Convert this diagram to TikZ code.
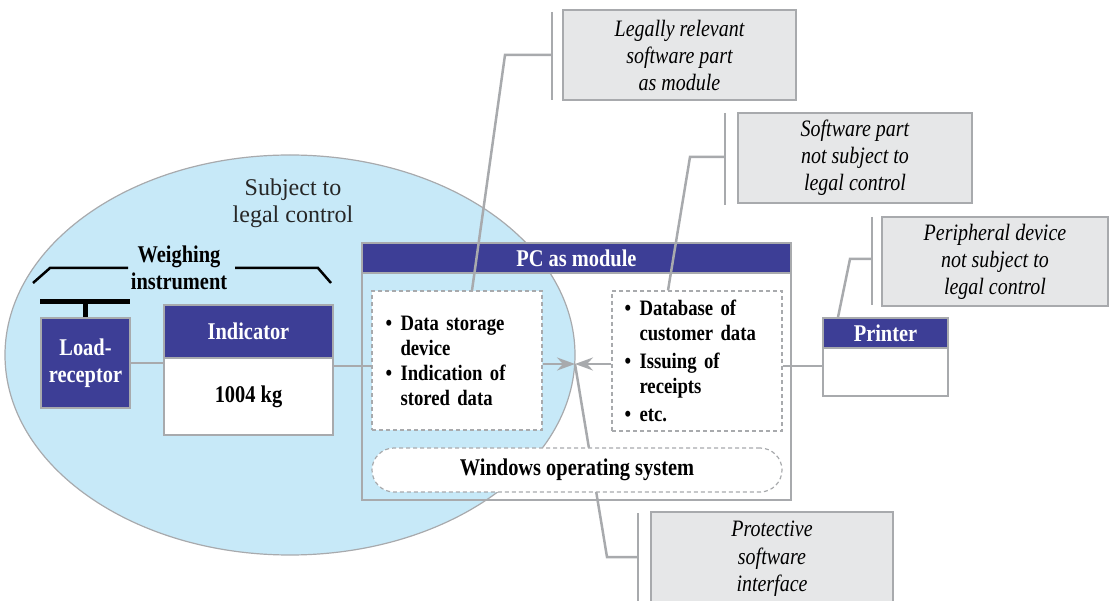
\documentclass[tikz,border=0pt]{standalone}
\usepackage{fontspec}
\setmainfont{Liberation Serif}[FakeStretch=0.85]
\newfontfamily\subjfont{Liberation Serif}
\usetikzlibrary{arrows.meta,shapes.geometric}

\definecolor{modblue}{RGB}{61,62,150}
\definecolor{legalblue}{RGB}{199,233,248}
\definecolor{linegray}{RGB}{168,170,173}
\definecolor{notegray}{RGB}{230,231,232}

\newcommand{\bitem}[1]{\makebox[15pt][l]{\textbullet}#1}
\newcommand{\bcont}[1]{\makebox[15pt]{}#1}

\begin{document}
\begin{tikzpicture}[x=1pt,y=-1pt,
    conn/.style={draw=linegray,line width=2.5pt},
    hdr/.style={draw=linegray,line width=1.5pt,fill=modblue,text=white,
      font=\bfseries\fontsize{24}{27}\selectfont,align=center,inner sep=0pt},
    body/.style={draw=linegray,line width=1.5pt,fill=white,
      font=\bfseries\fontsize{24}{27}\selectfont,align=center,inner sep=0pt},
    dbox/.style={draw=linegray,line width=1.2pt,dash pattern=on 4pt off 3pt,
      fill=white,inner sep=0pt},
    list/.style={font=\bfseries\fontsize{22}{25}\selectfont,align=left,
      text width=143pt,inner sep=0pt},
    note/.style={draw=linegray,line width=1.5pt,fill=notegray,align=center,
      font=\itshape\fontsize{23.5}{27}\selectfont,inner sep=0pt},
    notetext/.style={align=center,font=\itshape\fontsize{23.5}{27.5}\selectfont,inner sep=0pt},
    tip/.style={conn,-{Stealth[length=18pt,width=13pt,inset=6pt]}}]
  \path[use as bounding box,clip] (0,0) rectangle (1109,601);

  % area subject to legal control
  \node[ellipse,draw=linegray,line width=1.2pt,fill=legalblue,
    minimum width=570pt,minimum height=400pt,inner sep=0pt] (legal) at (290,355) {};
  \node[font=\subjfont\fontsize{24}{27}\selectfont,text=black!85,align=center]
    (subj) at (293,203) {Subject to\\legal control};

  % weighing instrument
  \node[font=\bfseries\fontsize{24}{27}\selectfont,align=center,inner sep=0pt]
    (wi) at (179,268) {Weighing\\instrument};
  \draw[line width=2.5pt] (33,283) -- (50,268) -- (128,268);
  \draw[line width=2.5pt] (235,268) -- (318,268) -- (331,283);

  \node[hdr,minimum width=89pt,minimum height=90pt] (load) at (85.5,363) {Load-\\receptor};
  \coordinate (barL) at (40,302);
  \coordinate (barR) at (130,302);
  \draw[line width=5pt] (barL) -- (barR);
  \draw[line width=5pt] (load.north) -- (load.north |- barL);

  \node[hdr,minimum width=169pt,minimum height=53pt] (ind) at (248.5,331.5) {Indicator};
  \node[body,minimum width=169pt,minimum height=77pt] (indval) at (248.5,396.5) {1004 kg};
  \draw[conn] (load.east) -- (load.east -| indval.west);

  % PC as module
  \node[draw=linegray,line width=1.5pt,minimum width=429pt,minimum height=257pt,
    inner sep=0pt] (pc) at (576.5,371.5) {};
  \node[hdr,minimum width=429pt,minimum height=30pt] (pchdr) at (576.5,258) {PC as module};

  \node[dbox,minimum width=170pt,minimum height=139pt] (store) at (457,360.5) {};
  \node[list] (storetxt) at (store) {\bitem{Data storage}\\\bcont{device}\\
    \bitem{Indication of}\\\bcont{stored data}};
  \node[dbox,minimum width=170pt,minimum height=140pt] (cust) at (697,361) {};
  \node[list] (custtxt) at ([xshift=-1pt]cust) {\bitem{Database of}\\\bcont{customer data}\\[3pt]
    \bitem{Issuing of}\\\bcont{receipts}\\[3pt]\bitem{etc.}};
  \draw[conn] (indval.east |- 0,366) -- (store.west |- 0,366);

  \coordinate (meet) at (575,364);
  \draw[tip] (store.east |- meet) -- (meet);
  \draw[tip] (cust.west |- meet) -- (meet);

  % protective software interface
  \coordinate (pknee) at (607,557);
  \coordinate (pbarT) at (638,513);
  \coordinate (pbarB) at (638,610);
  \draw[conn] (meet) -- (pknee) -- (pknee -| pbarT);
  \draw[conn] (pbarT) -- (pbarB);
  \node[note,minimum width=242pt,minimum height=108pt] (protect) at (772,566) {};
  \node[notetext] (protecttxt) at (772,559) {Protective\\software\\interface};

  \node[dbox,rounded corners=22pt,minimum width=410pt,minimum height=44pt,
    font=\bfseries\fontsize{24}{27}\selectfont] (winos) at (577,470) {Windows operating system};

  % printer
  \node[hdr,minimum width=125pt,minimum height=30pt] (prhdr) at (885.5,333) {Printer};
  \node[body,minimum width=125pt,minimum height=48pt] (prbody) at (885.5,372) {};
  \draw[conn] (cust.east |- 0,366) -- (prbody.west |- 0,366);

  % legally relevant software part
  \coordinate (lknee) at (505,55);
  \coordinate (lbarT) at (552,12);
  \coordinate (lbarB) at (552,100);
  \draw[conn] ([xshift=15pt]store.north) -- (lknee) -- (lknee -| lbarT);
  \draw[conn] (lbarT) -- (lbarB);
  \node[note,minimum width=233pt,minimum height=90pt] (lrel) at (679.5,55)
    {Legally relevant\\software part\\as module};

  % software part not subject to legal control
  \coordinate (sknee) at (690,157);
  \coordinate (sbarT) at (725,113);
  \coordinate (sbarB) at (725,205);
  \draw[conn] ([xshift=-29pt]cust.north) -- (sknee) -- (sknee -| sbarT);
  \draw[conn] (sbarT) -- (sbarB);
  \node[note,minimum width=234pt,minimum height=90pt] (swnot) at (855,158)
    {Software part\\not subject to\\legal control};

  % peripheral device not subject to legal control
  \coordinate (rknee) at (850,259);
  \coordinate (rbarT) at (872,217);
  \coordinate (rbarB) at (872,305);
  \draw[conn] ([xshift=-47.5pt]prhdr.north) -- (rknee) -- (rknee -| rbarT);
  \draw[conn] (rbarT) -- (rbarB);
  \node[note,minimum width=226pt,minimum height=89pt] (periph) at (995,261.5)
    {Peripheral device\\not subject to\\legal control};
\end{tikzpicture}
\end{document}
